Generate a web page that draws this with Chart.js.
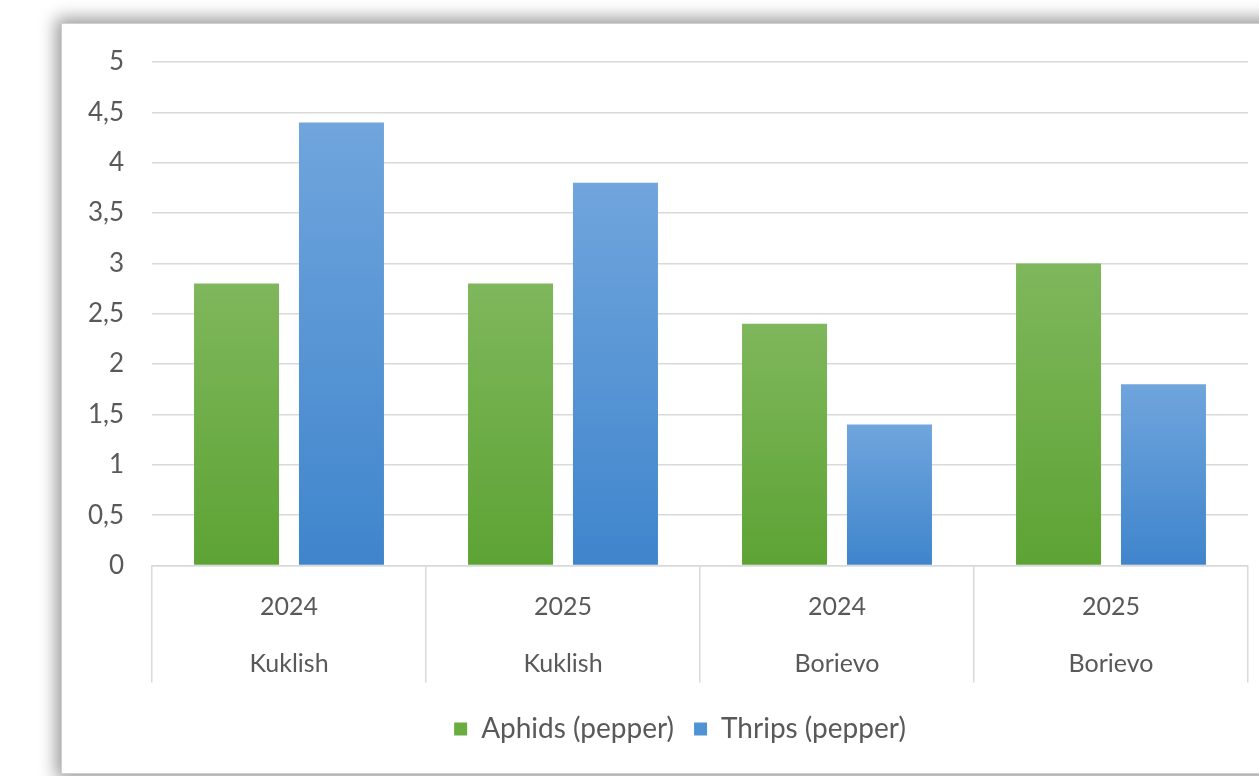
<!DOCTYPE html>
<html>
<head>
<meta charset="utf-8">
<script src="https://cdn.jsdelivr.net/npm/chart.js@4/dist/chart.umd.min.js"></script>
<style>
  html, body { margin: 0; padding: 0; background: #fff; overflow: hidden; }
  #panel {
    position: absolute; left: 61px; top: 23px; width: 1240px; height: 749px;
    background: #fff; border: 1px solid #cfcfcf;
    box-shadow: 0 0 16px 5px rgba(0, 0, 0, 0.4);
  }
  #wrap { position: relative; width: 1197px; height: 749px; }
</style>
</head>
<body>
<div id="panel"><div id="wrap"><canvas id="chart"></canvas></div></div>
<script>
const years = ["2024", "2025", "2024", "2025"]
const places = ["Kuklish", "Kuklish", "Borievo", "Borievo"]
const aphids = [2.8, 2.8, 2.4, 3.0]
const thrips = [4.4, 3.8, 1.4, 1.8]
const seriesNames = ["Aphids (pepper)", "Thrips (pepper)"]
const yTicks = ["0", "0,5", "1", "1,5", "2", "2,5", "3", "3,5", "4", "4,5", "5"]

const labels = years.map((y, i) => [y, places[i]])
const txt = "#595959"
const gridCol = "#d9d9d9"
const font = "Lato"
const yFontSize = 26

// widest y label, so mirrored ticks can be right-aligned left of the axis
const mctx = document.createElement("canvas").getContext("2d")
mctx.font = yFontSize + "px " + font
const widest = Math.max(...yTicks.map(t => mctx.measureText(t).width))

// per-bar vertical gradient, lighter on top
function barFill(top, bottom) {
    return ctx => {
        const chart = ctx.chart
        const y = chart.scales.y
        if (!chart.chartArea || !y) return bottom
        const y0 = y.getPixelForValue(0)
        const y1 = y.getPixelForValue(ctx.raw)
        if (!isFinite(y1) || y0 === y1) return bottom
        const g = chart.ctx.createLinearGradient(0, y1, 0, y0)
        g.addColorStop(0, top)
        g.addColorStop(1, bottom)
        return g
    }
}

Chart.defaults.font.family = font
Chart.defaults.color = txt

new Chart(document.getElementById("chart"), {
    type: "bar",
    data: {
        labels: labels,
        datasets: [{
            label: seriesNames[0],
            data: aphids,
            backgroundColor: barFill("#7fb75c", "#5da334"),
            legendColor: "#69ad40",
            barPercentage: 0.81,
            categoryPercentage: 0.766
        }, {
            label: seriesNames[1],
            data: thrips,
            backgroundColor: barFill("#70a5dd", "#3f85cc"),
            legendColor: "#4f93d6",
            barPercentage: 0.81,
            categoryPercentage: 0.766
        }]
    },
    options: {
        responsive: true,
        maintainAspectRatio: false,
        animation: false,
        events: [],
        layout: { padding: { top: 38, right: 11, left: 50, bottom: 20 } },
        scales: {
            x: {
                grid: {
                    offset: true,
                    drawOnChartArea: false,
                    drawTicks: true,
                    tickLength: 117,
                    color: gridCol,
                    lineWidth: 1.5
                },
                border: { display: true, color: gridCol, width: 1.5 },
                ticks: {
                    color: txt,
                    font: { size: 25, lineHeight: 57 / 25 },
                    padding: -104,
                    maxRotation: 0,
                    autoSkip: false
                },
                afterFit: s => { s.height = 129.5 }
            },
            y: {
                min: 0,
                max: 5,
                grid: { color: gridCol, lineWidth: 1.5, drawTicks: false },
                border: { display: false },
                ticks: {
                    stepSize: 0.5,
                    mirror: true,
                    crossAlign: "far",
                    padding: -28 - widest,
                    color: txt,
                    font: { size: yFontSize, lineHeight: 0.1 },
                    callback: (v, i) => yTicks[i]
                },
                afterFit: s => { s.width = 40 }
            }
        },
        plugins: {
            legend: {
                position: "bottom",
                labels: {
                    color: txt,
                    font: { size: 28 },
                    boxWidth: 13,
                    boxHeight: 13,
                    padding: 20,
                    generateLabels: chart => chart.data.datasets.map((ds, i) => ({
                        text: ds.label,
                        fillStyle: ds.legendColor,
                        strokeStyle: ds.legendColor,
                        lineWidth: 0,
                        fontColor: txt,
                        datasetIndex: i,
                        hidden: false
                    }))
                }
            },
            tooltip: { enabled: false }
        }
    }
})
</script>
</body>
</html>
